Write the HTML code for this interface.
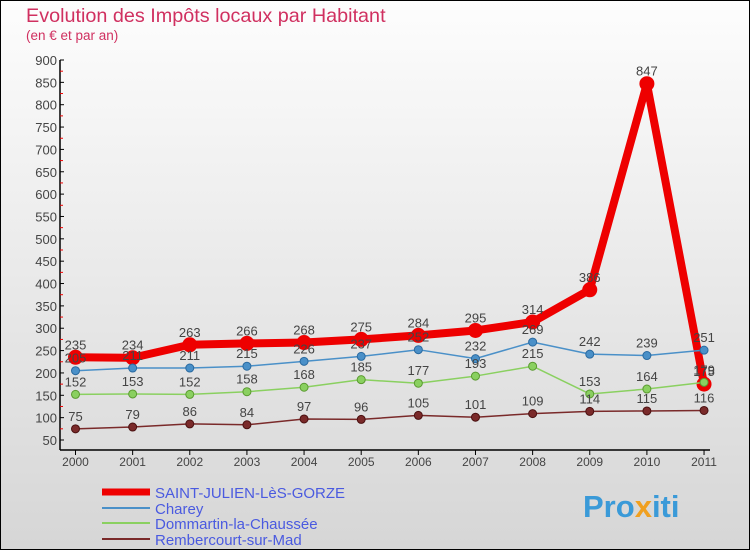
<!DOCTYPE html>
<html><head><meta charset="utf-8"><style>
body{margin:0;width:750px;height:550px;overflow:hidden;font-family:"Liberation Sans",sans-serif}
#c{position:absolute;left:0;top:0;width:748px;height:548px;border:1px solid #000;background:linear-gradient(#fdfdfd,#d6d6d6)}
</style></head><body>
<div id="c">
<svg id="s" width="750" height="550" style="position:absolute;left:-1px;top:-1px">
<text x="26" y="22" font-size="19.8" fill="#d03060">Evolution des Impôts locaux par Habitant</text>
<text x="26" y="40" font-size="13.5" fill="#d03060">(en € et par an)</text>
<g id="axes"></g><g id="series"></g>
<g>
<line x1="102" y1="492" x2="150" y2="492" stroke="#e00" stroke-width="7"/>
<text x="155" y="498" font-size="15" fill="#4a5ae0">SAINT-JULIEN-LèS-GORZE</text>
<line x1="102" y1="508" x2="150" y2="508" stroke="#4a90c8" stroke-width="2"/>
<text x="155" y="514" font-size="15" fill="#4a5ae0">Charey</text>
<line x1="102" y1="523" x2="150" y2="523" stroke="#8ad060" stroke-width="2"/>
<text x="155" y="529" font-size="15" fill="#4a5ae0">Dommartin-la-Chaussée</text>
<line x1="102" y1="539" x2="150" y2="539" stroke="#7a2a2a" stroke-width="2"/>
<text x="155" y="545" font-size="15" fill="#4a5ae0">Rembercourt-sur-Mad</text>
</g>
<text x="583" y="517" font-size="31" font-weight="bold" fill="#3a9ad8">Pro<tspan fill="#f0a020">x</tspan>iti</text>
</svg></div>
<script>
const years=["2000","2001","2002","2003","2004","2005","2006","2007","2008","2009","2010","2011"];
const saint=[235,234,263,266,268,275,284,295,314,386,847,175];
const charey=[205,211,211,215,226,237,252,232,269,242,239,251];
const domm=[152,153,152,158,168,185,177,193,215,153,164,179];
const remb=[75,79,86,84,97,96,105,101,109,114,115,116];
const yTicks=[50,100,150,200,250,300,350,400,450,500,550,600,650,700,750,800,850,900];
const NS="http://www.w3.org/2000/svg";
const X=i=>75.5+i*57.14, Y=v=>440-(v-50)*380/850;
function mk(t,a,p){const e=document.createElementNS(NS,t);for(const k in a)e.setAttribute(k,a[k]);p.appendChild(e);return e;}
const ax=document.getElementById('axes'), sg=document.getElementById('series');
let e=mk('line',{x1:60,y1:60,x2:60,y2:450,stroke:'#000','stroke-width':1.5},ax);

e=mk('line',{x1:60,y1:450,x2:710,y2:450,stroke:'#000','stroke-width':1.5},ax);

yTicks.forEach((v,i)=>{mk('line',{x1:60,y1:Y(v),x2:64,y2:Y(v),stroke:'#000'},ax);
 if(i<yTicks.length-1)mk('line',{x1:60,y1:Y(v+25),x2:63,y2:Y(v+25),stroke:'#e00'},ax);
 const t=mk('text',{x:57,y:Y(v)+5,'font-size':13,'text-anchor':'end',fill:'#444'},ax);t.textContent=v;
 });
years.forEach((y,i)=>{mk('line',{x1:X(i),y1:450,x2:X(i),y2:455,stroke:'#000'},ax);
 const t=mk('text',{x:X(i),y:466,'font-size':12,'text-anchor':'middle',fill:'#444'},ax);t.textContent=y;
 });
function series(d,col,w,r,name,stroke){
 const g=mk('g',{},sg);
 mk('polyline',{points:d.map((v,i)=>X(i)+','+Y(v)).join(' '),fill:'none',stroke:col,'stroke-width':w,'stroke-linejoin':'round'},g);
 d.forEach((v,i)=>{const c=mk('circle',{cx:X(i),cy:Y(v),r:r,fill:col,stroke:stroke,'stroke-width':1},g);
  
  const t=mk('text',{x:X(i),y:Y(v)-8,'font-size':13,'text-anchor':'middle',fill:'#444'},g);t.textContent=v;
  });
}
series(saint,'#ee0000',8,7,'series-saint-julien','#e00');
series(charey,'#4a90c8',1.5,4,'series-charey','#2a6aa0');
series(domm,'#8ad060',1.5,4,'series-dommartin','#5a9a30');
series(remb,'#7a2a2a',1.5,4,'series-rembercourt','#4a1010');
</script>
</body></html>
